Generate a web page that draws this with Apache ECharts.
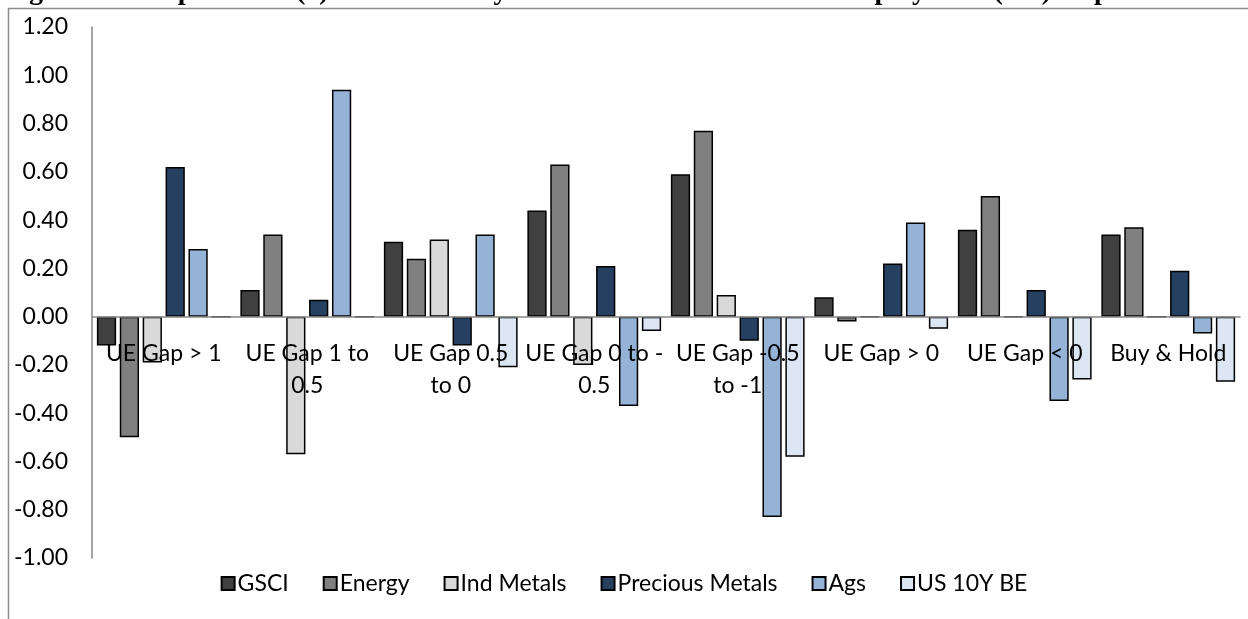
<!DOCTYPE html>
<html>
<head>
<meta charset="utf-8">
<script src="https://cdn.jsdelivr.net/npm/echarts@6/dist/echarts.min.js"></script>
<style>
  html, body { margin: 0; padding: 0; background: #fff; }
  #chart { width: 1248px; height: 619px; }
</style>
</head>
<body>
<div id="chart"></div>
<script>
// Sharpe ratios by unemployment-gap regime, per commodity sector
const categories = [
  'UE Gap > 1',
  'UE Gap 1 to\n0.5',
  'UE Gap 0.5\nto 0',
  'UE Gap 0 to -\n0.5',
  'UE Gap -0.5\nto -1',
  'UE Gap > 0',
  'UE Gap < 0',
  'Buy & Hold'
];

const seriesNames = ['GSCI', 'Energy', 'Ind Metals', 'Precious Metals', 'Ags', 'US 10Y BE'];

const gsci           = [-0.12, 0.11, 0.31, 0.44, 0.59, 0.08, 0.36, 0.34];
const energy         = [-0.50, 0.34, 0.24, 0.63, 0.77, -0.02, 0.50, 0.37];
const indMetals      = [-0.19, -0.57, 0.32, -0.20, 0.09, 0, 0, 0];
const preciousMetals = [0.62, 0.07, -0.12, 0.21, -0.10, 0.22, 0.11, 0.19];
const ags            = [0.28, 0.94, 0.34, -0.37, -0.83, 0.39, -0.35, -0.07];
const us10yBE        = [0, 0, -0.21, -0.06, -0.58, -0.05, -0.26, -0.27];

const yTicks = { min: -1.0, max: 1.2, step: 0.2 };

const titleText = 'Figure 6: Sharpe Ratios (x) of Commodity Returns Conditional on Unemployment (UE) Gap';

const colors = ['#404040', '#808080', '#d9d9d9', '#254061', '#95b3d7', '#dce6f2'];
const values = [gsci, energy, indMetals, preciousMetals, ags, us10yBE];

const FONT = 'Lato';
const FONT_SIZE = 23;
const AXIS_GREY = '#868686';

// plot box
const W = 1248, H = 619;
const GRID = { left: 92, right: 8, top: 27, bottom: 61 };
const plotH = H - GRID.top - GRID.bottom;
// distance from the bottom of the plot up to the zero line, so the category
// axis (line and labels) sits on y = 0
const zeroLift = plotH * (0 - yTicks.min) / (yTicks.max - yTicks.min);

const chart = echarts.init(document.getElementById('chart'), null, { renderer: 'canvas' });

chart.setOption({
  animation: false,
  backgroundColor: '#ffffff',
  textStyle: { fontFamily: FONT },
  graphic: [
    {
      // title sits above the chart frame, only its lowest strokes reach the page
      type: 'text',
      x: 4,
      y: -22,
      z: 100,
      style: {
        text: titleText,
        font: 'bold 28px "Liberation Serif"',
        fill: '#000',
        verticalAlign: 'top'
      }
    },
    {
      type: 'polyline',
      z: 101,
      shape: { points: [[8.5, 640], [8.5, 8.5], [1260, 8.5]] },
      style: { stroke: '#8c8c8c', lineWidth: 1.5, fill: null }
    }
  ],
  grid: Object.assign({ containLabel: false }, GRID),
  legend: {
    bottom: 19,
    left: 'center',
    itemWidth: 13,
    itemHeight: 13,
    itemGap: 34,
    icon: 'rect',
    textStyle: { fontFamily: FONT, fontSize: FONT_SIZE, color: '#000', padding: [0, 0, 0, -2] },
    data: seriesNames
  },
  xAxis: {
    type: 'category',
    data: categories,
    z: 10,
    position: 'bottom',
    offset: -zeroLift,
    axisLine: { onZero: false, lineStyle: { color: AXIS_GREY, width: 1.5 } },
    axisTick: { show: false },
    axisLabel: {
      interval: 0,
      margin: 21,
      fontFamily: FONT,
      fontSize: FONT_SIZE,
      lineHeight: 32,
      color: '#000'
    },
    splitLine: { show: false }
  },
  yAxis: {
    type: 'value',
    min: yTicks.min,
    max: yTicks.max,
    interval: yTicks.step,
    axisLine: { show: true, lineStyle: { color: AXIS_GREY, width: 1.5 } },
    axisTick: { show: false },
    splitLine: { show: false },
    axisLabel: {
      margin: 24,
      fontFamily: FONT,
      fontSize: FONT_SIZE,
      color: '#000',
      formatter: v => v.toFixed(2)
    }
  },
  series: seriesNames.map((name, i) => ({
    name,
    type: 'bar',
    data: values[i],
    barGap: '19%',
    barCategoryGap: '6.8%',
    itemStyle: { color: colors[i], borderColor: '#000', borderWidth: 1.5 },
    emphasis: { disabled: true }
  }))
});
</script>
</body>
</html>
